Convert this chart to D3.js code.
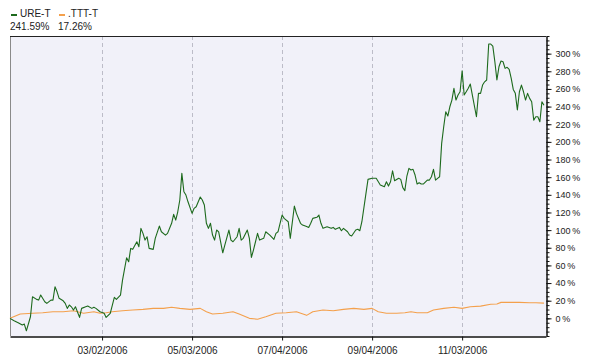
<!DOCTYPE html>
<html>
<head>
<meta charset="utf-8">
<script src="https://cdn.jsdelivr.net/npm/d3@7"></script>
<style>
body { margin: 0; background: #fff; }
svg { display: block; font-family: "Liberation Sans", Arial, sans-serif; }
</style>
</head>
<body>
<svg id="chart" width="593" height="363"></svg>
<script>
// x values are trading days (weekdays) counted from START
const START = "2005-12-29";
const END = "2007-01-01";

const seriesNames = ["URE-T", ".TTT-T"];
const seriesColors = ["#1d6a1d", "#f4a04c"];
const lastValues = [241.59, 17.26];

const ureDay = [0, 2, 4, 6, 7, 8, 10, 11, 13, 14, 15, 17, 18, 20, 21, 22, 23, 24, 26, 27, 28, 29, 30, 31, 32, 34, 35, 37, 38, 40,
    41, 42, 44, 46, 47, 49, 51, 52, 54, 55, 57, 58, 59, 60, 62, 63, 64, 65, 66, 67, 68, 70, 71, 73, 74, 76, 77, 79, 80, 81,
    82, 83, 84, 85, 86, 87, 89, 90, 91, 93, 94, 95, 96, 97, 98, 99, 100, 101, 102, 104, 105, 107, 108, 109, 111, 112, 113, 114, 116, 117,
    118, 119, 121, 122, 124, 125, 127, 129, 130, 131, 133, 134, 136, 137, 139, 140, 142, 143, 145, 146, 147, 148, 150, 151, 152, 153, 155, 157, 158, 159,
    161, 162, 163, 165, 166, 167, 169, 170, 171, 172, 174, 175, 177, 178, 179, 181, 183, 184, 185, 186, 187, 188, 190, 191, 192, 193, 194, 195, 196, 197,
    198, 199, 200, 201, 202, 204, 205, 206, 207, 208, 209, 210, 211, 212, 213, 214, 215, 216, 217, 218, 219, 220, 221, 222, 223, 224, 225, 226, 228, 229,
    230, 231, 232, 233, 234, 235, 236, 237, 238, 239, 240, 241, 242, 243, 244, 245, 246, 247, 248, 249, 250, 251, 252, 253, 254, 255, 256, 257, 258, 259,
    260, 261];
const ureValue = [0, -2.7, -5.0, -7.6, -6.5, -14.1, 1.8, 24.5, 21.5, 20.7, 26.4, 18.8, 17.0, 20.7, 20.7, 35.8, 30.1, 22.7, 19.9, 17.0, 11.3, 15.1, 13.1, 9.4, 13.1, 1.1, 11.3, 13.1, 13.9, 11.3,
    12.5, 11.3, 7.5, 5.7, 1.1, 5.7, 23.8, 21.5, 26.4, 43.4, 68.7, 64.1, 79.3, 78.2, 86.8, 81.1, 102.0, 96.3, 88.7, 92.5, 79.3, 78.2, 90.7, 104.6, 98.1, 94.4, 96.3, 107.7, 117.9, 111.4,
    120.8, 134.1, 164.3, 143.5, 139.7, 132.1, 119.0, 124.7, 126.5, 137.5, 134.1, 128.4, 107.7, 102.0, 107.7, 94.4, 88.7, 100.1, 98.1, 74.3, 83.1, 100.1, 88.7, 86.8, 92.5, 102.0, 88.7, 90.7, 100.1, 90.7,
    69.1, 77.4, 96.3, 88.7, 90.7, 98.1, 94.4, 89.5, 96.3, 98.1, 117.1, 113.3, 109.5, 90.7, 127.3, 119.0, 107.7, 105.7, 104.0, 103.0, 107.7, 113.3, 114.5, 117.1, 107.7, 102.0, 103.8, 102.0, 103.1, 100.9,
    103.1, 99.3, 102.0, 98.1, 94.4, 93.3, 100.1, 100.9, 99.3, 109.5, 141.7, 157.5, 158.7, 158.7, 158.7, 151.1, 149.1, 154.8, 149.9, 154.8, 167.3, 155.9, 158.7, 157.5, 148.2, 144.8, 161.3, 170.0, 168.1, 168.9,
    162.4, 152.2, 153.7, 152.2, 152.2, 156.7, 156.7, 160.5, 168.9, 156.7, 158.7, 160.5, 198.3, 217.1, 234.1, 229.3, 239.8, 247.4, 260.7, 247.4, 253.1, 256.8, 280.6, 253.1, 256.8, 260.7, 265.5, 253.1, 228.5, 255.0,
    255.0, 264.4, 268.1, 270.1, 310.9, 310.9, 308.6, 290.8, 270.1, 285.1, 291.6, 290.8, 283.3, 284.5, 282.2, 272.0, 259.5, 255.0, 236.1, 256.8, 264.4, 256.8, 247.4, 255.0, 249.3, 245.5, 224.6, 228.5, 228.5, 222.8,
    245.5, 241.59];

const tttDay = [0, 5, 11, 16, 21, 26, 31, 36, 41, 44, 47, 50, 55, 60, 65, 70, 75, 79, 83, 88, 93, 96, 99, 104, 109, 112, 117, 121, 125, 130,
    135, 140, 145, 148, 153, 158, 163, 168, 173, 177, 180, 184, 189, 193, 196, 199, 204, 207, 212, 217, 221, 225, 230, 235, 238, 240, 244, 249, 254, 257, 261];
const tttValue = [0, 4.9, 5.7, 6.3, 7.5, 7.5, 8.6, 5.7, 7.5, 5.7, 6.3, 7.5, 8.6, 9.4, 10.2, 11.3, 11.3, 12.5, 11.3, 10.2, 11.3, 7.5, 4.9, 5.7, 7.5, 4.9, 0, -1.0, 1.8, 5.7,
    6.3, 7.5, 3.4, 7.5, 9.4, 8.6, 10.2, 11.3, 10.2, 11.3, 7.5, 5.7, 5.7, 6.3, 7.5, 6.3, 6.3, 9.4, 11.3, 12.5, 11.3, 13.1, 13.9, 15.9, 16.2, 18.1, 18.1, 18.1, 17.7, 17.7, 17.26];

const tickDates = ["2006-03-02", "2006-05-03", "2006-07-04", "2006-09-04", "2006-11-03"];
const yMajorTicks = d3.range(0, 301, 20);
const yMinorTicks = d3.range(-20, 321, 5);

const parseDate = d3.timeParse("%Y-%m-%d");
const formatDate = d3.timeFormat("%m/%d/%Y");

// number of weekdays between START and a date
function tradingDay(date) {
    return d3.timeDay.range(parseDate(START), date)
        .filter(t => t.getDay() !== 0 && t.getDay() !== 6).length;
}

const svg = d3.select("#chart");
const plotLeft = 10, plotRight = 546, plotTop = 36, plotBottom = 336;

const x = d3.scaleLinear()
    .domain([0, tradingDay(parseDate(END))])
    .range([plotLeft, plotRight]);
const y = d3.scaleLinear()
    .domain([-20, 320])
    .range([plotBottom, plotTop]);

// plot background
svg.append("rect")
    .attr("x", plotLeft).attr("y", plotTop)
    .attr("width", plotRight - plotLeft).attr("height", plotBottom - plotTop)
    .attr("fill", "#f1f1f9")
    .attr("stroke", "none");

// vertical grid lines at the date ticks
const tickDays = tickDates.map(d => tradingDay(parseDate(d)));
svg.append("g").selectAll("line")
    .data(tickDays)
    .enter()
    .append("line")
    .attr("x1", d => Math.round(x(d)) + 0.5)
    .attr("x2", d => Math.round(x(d)) + 0.5)
    .attr("y1", plotTop)
    .attr("y2", plotBottom)
    .attr("stroke", "#bcbcc8")
    .attr("stroke-dasharray", "4,3");

// frame: grey left side, dark top
svg.append("line")
    .attr("x1", plotLeft + 0.5).attr("x2", plotLeft + 0.5)
    .attr("y1", plotTop).attr("y2", plotBottom)
    .attr("stroke", "#8a8a8a");
svg.append("line")
    .attr("x1", plotLeft).attr("x2", plotRight)
    .attr("y1", plotTop + 0.5).attr("y2", plotTop + 0.5)
    .attr("stroke", "#222");

// series lines
const series = [
    { days: ureDay, values: ureValue },
    { days: tttDay, values: tttValue }
];
const line = d3.line()
    .x(d => x(d[0]))
    .y(d => y(d[1]));

// draw orange first so green sits on top
[1, 0].forEach(k => {
    const pts = series[k].days.map((d, i) => [d, series[k].values[i]]);
    svg.append("path")
        .datum(pts)
        .attr("d", line)
        .attr("fill", "none")
        .attr("stroke", seriesColors[k])
        .attr("stroke-width", 1.1)
        .attr("stroke-linejoin", "round");
});

// bottom axis
const xAxis = d3.axisBottom(x)
    .tickValues(tickDays)
    .tickFormat((d, i) => formatDate(parseDate(tickDates[i])))
    .tickSize(4)
    .tickSizeOuter(0);
const xg = svg.append("g")
    .attr("transform", "translate(0," + (plotBottom + 0.5) + ")")
    .call(xAxis);
xg.select(".domain").attr("stroke", "#111").attr("stroke-width", 1.5);
xg.selectAll(".tick line").attr("stroke", "#111");
xg.selectAll("text")
    .attr("fill", "#222")
    .style("font-size", "10px")
    .attr("dy", "1.05em");

// right axis: minor ticks every 5 %, labelled ticks every 20 %
const yMinor = d3.axisRight(y)
    .tickValues(yMinorTicks)
    .tickSize(3)
    .tickSizeOuter(0)
    .tickFormat("");
const ym = svg.append("g")
    .attr("transform", "translate(" + (plotRight + 0.5) + ",0)")
    .call(yMinor);
ym.select(".domain").attr("stroke", "#111").attr("stroke-width", 1.5);
ym.selectAll(".tick line").attr("stroke", "#111");

const yMajor = d3.axisRight(y)
    .tickValues(yMajorTicks)
    .tickSize(5)
    .tickPadding(4)
    .tickFormat(d => d + "\u2009%");
const yg = svg.append("g")
    .attr("transform", "translate(" + (plotRight + 0.5) + ",0)")
    .call(yMajor);
yg.select(".domain").remove();
yg.selectAll(".tick line").attr("stroke", "#111");
yg.selectAll("text")
    .attr("fill", "#222")
    .style("font-size", "9px");

// legend
const legend = svg.append("g");
const legendX = [10, 58];
seriesNames.forEach((name, k) => {
    const g = legend.append("g")
        .attr("transform", "translate(" + legendX[k] + ",0)");
    g.append("rect")
        .attr("x", 1).attr("y", 14)
        .attr("width", 6).attr("height", 2)
        .attr("fill", seriesColors[k]);
    g.append("text")
        .attr("x", 10).attr("y", 17)
        .attr("fill", "#222")
        .style("font-size", "10px")
        .text(name);
    g.append("text")
        .attr("x", 0).attr("y", 30)
        .attr("fill", "#222")
        .style("font-size", "10px")
        .text(d3.format(".2f")(lastValues[k]) + "%");
});
</script>
</body>
</html>
